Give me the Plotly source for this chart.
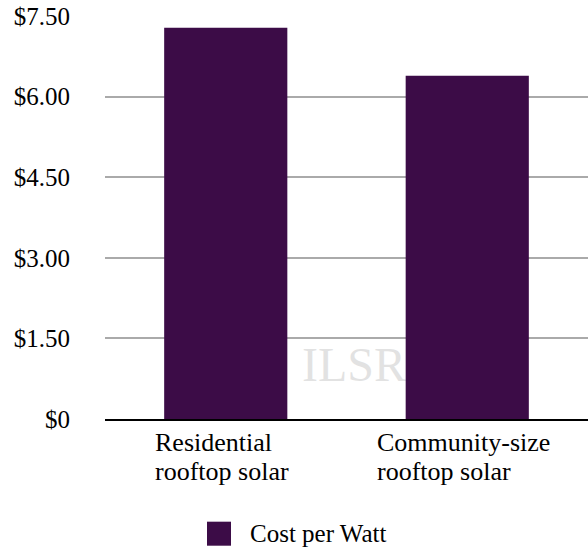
import plotly.graph_objects as go

# Installed cost per watt by project type
category_lines = [["Residential", "rooftop solar"], ["Community-size", "rooftop solar"]]
categories = [" ".join(lines) for lines in category_lines]
cost_per_watt = [7.28, 6.39]
series_name = "Cost per Watt"

tick_values = [0, 1.5, 3.0, 4.5, 6.0, 7.5]
tick_labels = ["$0", "$1.50", "$3.00", "$4.50", "$6.00", "$7.50"]

BAR_COLOR = "#3c0c47"
FONT = "Liberation Serif, Times New Roman, serif"
FONT_SIZE = 25

fig = go.Figure()
fig.add_trace(go.Bar(
    x=categories,
    y=cost_per_watt,
    name=series_name,
    marker=dict(color=BAR_COLOR, line=dict(width=0)),
    showlegend=False,
    hoverinfo="x+y",
))

annotations = []
# two-line category labels, left-aligned block centred under each bar
label_shift = [-71.5, -91]
line_offsets = [-8, -37]
for cat, lines, shift in zip(categories, category_lines, label_shift):
    for line, dy in zip(lines, line_offsets):
        annotations.append(dict(
            x=cat, xref="x", y=0, yref="paper",
            xanchor="left", yanchor="top",
            xshift=shift, yshift=dy, borderpad=0,
            text=line, showarrow=False,
            font=dict(family=FONT, size=26, color="#000000"),
        ))

# legend entry
annotations.append(dict(
    x=0.2965, xref="paper", y=-0.283, yref="paper",
    xanchor="left", yanchor="middle",
    text=series_name, showarrow=False,
    font=dict(family=FONT, size=FONT_SIZE, color="#000000"),
))

# faint watermark
annotations.append(dict(
    x=0.5145, xref="paper", y=0.135, yref="paper",
    xanchor="center", yanchor="middle",
    text="ILSR", showarrow=False, opacity=0.11,
    font=dict(family=FONT, size=48, color="#000000"),
))

fig.update_layout(
    width=588, height=547,
    margin=dict(l=105, r=0, t=16, b=128, pad=0),
    paper_bgcolor="white", plot_bgcolor="white",
    bargap=0.49,
    font=dict(family=FONT, size=FONT_SIZE, color="#000000"),
    annotations=annotations,
    shapes=[dict(
        type="rect", xref="paper", yref="paper",
        x0=0.2112, x1=0.2609, y0=-0.3144, y1=-0.2548,
        fillcolor=BAR_COLOR, line=dict(width=0),
    )],
    xaxis=dict(
        range=[-0.5, 1.5],
        showticklabels=False, ticks="",
        showgrid=False, zeroline=False,
        showline=True, linecolor="#000000", linewidth=2,
    ),
    yaxis=dict(
        range=[0, 7.5],
        tickvals=tick_values, ticktext=tick_labels,
        ticks="", ticklabelstandoff=34,
        showgrid=True, gridcolor="#aaaaaa", gridwidth=2,
        zeroline=False, showline=False,
        tickfont=dict(family=FONT, size=FONT_SIZE, color="#000000"),
    ),
)

fig.write_html("out.html")
